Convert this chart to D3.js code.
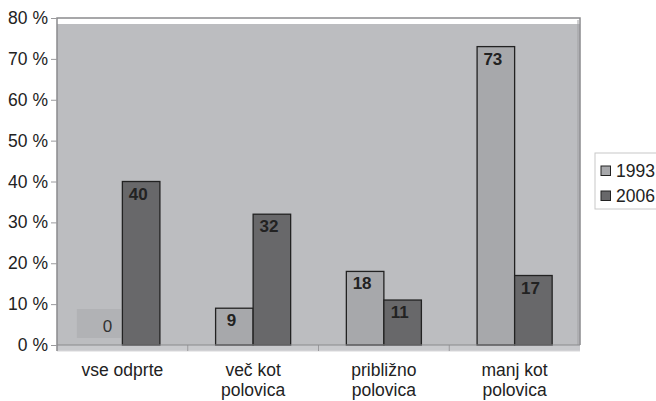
<!DOCTYPE html>
<html><head><meta charset="utf-8">
<script src="https://cdn.jsdelivr.net/npm/d3@7"></script>
<style>body{margin:0;background:#fff}svg{display:block;font-family:"Liberation Sans",Arial,sans-serif}</style>
</head><body><svg id="c" width="656" height="401"></svg>
<script>
const categories = [["vse odprte"], ["več kot","polovica"], ["približno","polovica"], ["manj kot","polovica"]];
const series = ["1993", "2006"];
const values1993 = [0, 9, 18, 73];
const values2006 = [40, 32, 11, 17];
const yTicks = [0,10,20,30,40,50,60,70,80];
const colors = ["#a7a8ab", "#68686a"];

const FONT = "'Liberation Sans', Arial, sans-serif";
const svg = d3.select("#c");
const L = 57, R = 580, T = 18, B = 345;
const x = d3.scaleBand().domain(d3.range(categories.length)).range([L, R]).padding(0);
const y = d3.scaleLinear().domain([0, 80]).range([B, T]);
const bw = x.bandwidth() * 0.287;

// plot frame & wall
svg.append("rect").attr("x", L).attr("y", T).attr("width", R - L).attr("height", B - T).attr("fill", "#fff");
svg.append("rect").attr("x", L).attr("y", T + 6).attr("width", R - L).attr("height", B - T - 6).attr("fill", "#bcbdc0");
// floor
svg.append("rect").attr("x", L).attr("y", B).attr("width", R - L).attr("height", 6).attr("fill", "#c9cacd");
svg.append("line").attr("x1", L).attr("x2", R).attr("y1", B + 6).attr("y2", B + 6).attr("stroke", "#d8d8da").attr("stroke-width", 1);
// separators on floor
d3.range(1, categories.length).forEach(i => {
  svg.append("line").attr("x1", x(i)).attr("x2", x(i)).attr("y1", B).attr("y2", B + 6).attr("stroke", "#9a9a9d");
});
// frame lines
svg.append("path").attr("d", `M${L},${B + 6}V${T}H${R}V${B}`).attr("fill", "none").attr("stroke", "#8a8a8d").attr("stroke-width", 1.5);
svg.append("line").attr("x1", R - 2).attr("x2", R - 2).attr("y1", T + 2).attr("y2", B).attr("stroke", "#a0a0a3").attr("stroke-width", 1);

// y axis
const yAxis = svg.append("g").attr("transform", `translate(${L},0)`)
  .call(d3.axisLeft(y).tickValues(yTicks).tickSize(6).tickPadding(3).tickFormat(d => d + " %"));
yAxis.attr("font-family", FONT).attr("font-size", 17.5);
yAxis.select(".domain").remove();
yAxis.selectAll("line").attr("stroke", "#9a9a9d");
yAxis.selectAll("text").attr("fill", "#222");

// bars
const data = [];
categories.forEach((c, i) => {
  data.push({i, s: 0, v: values1993[i]});
  data.push({i, s: 1, v: values2006[i]});
});
const cx = i => x(i) + x.bandwidth() / 2;
const bx = d => cx(d.i) - bw + d.s * bw;

data.filter(d => d.v > 0).forEach(d => {
  svg.append("rect").attr("x", bx(d)).attr("y", y(d.v)).attr("width", bw).attr("height", y(0) - y(d.v))
    .attr("fill", colors[d.s]).attr("stroke", "#222").attr("stroke-width", 1.3);
  svg.append("text").attr("x", bx(d) + bw / 2 - 3).attr("y", y(d.v) + 18)
    .attr("text-anchor", "middle").attr("font-size", 17).attr("font-weight", "bold").attr("fill", "#222").text(d.v);
});
svg.append("line").attr("x1", L).attr("x2", R).attr("y1", B).attr("y2", B).attr("stroke", "#8a8a8d").attr("stroke-width", 1);
// zero label
data.filter(d => d.v === 0).forEach(d => {
  const xx = bx(d);
  svg.append("rect").attr("x", xx - 8).attr("y", B - 36).attr("width", 44).attr("height", 29).attr("fill", "#b1b2b5");
  svg.append("text").attr("x", xx + 22.6).attr("y", B - 13).attr("text-anchor", "middle")
    .attr("font-size", 17).attr("fill", "#333").text(d.v);
});

// category labels
categories.forEach((c, i) => {
  const t = svg.append("text").attr("text-anchor", "middle").attr("font-size", 17.5).attr("fill", "#222");
  c.forEach((line, k) => t.append("tspan").attr("x", cx(i)).attr("y", 376 + k * 20).text(line));
});

// legend
svg.append("rect").attr("x", 595).attr("y", 153).attr("width", 70).attr("height", 56).attr("fill", "#fff").attr("stroke", "#c8c8c8");
series.forEach((s, k) => {
  svg.append("rect").attr("x", 601).attr("y", 166 + k * 25).attr("width", 9.5).attr("height", 9.5)
    .attr("fill", colors[k]).attr("stroke", "#222").attr("stroke-width", 1);
  svg.append("text").attr("x", 616).attr("y", 176.5 + k * 25).attr("font-size", 17.5).attr("fill", "#222").text(s);
});
</script></body></html>
